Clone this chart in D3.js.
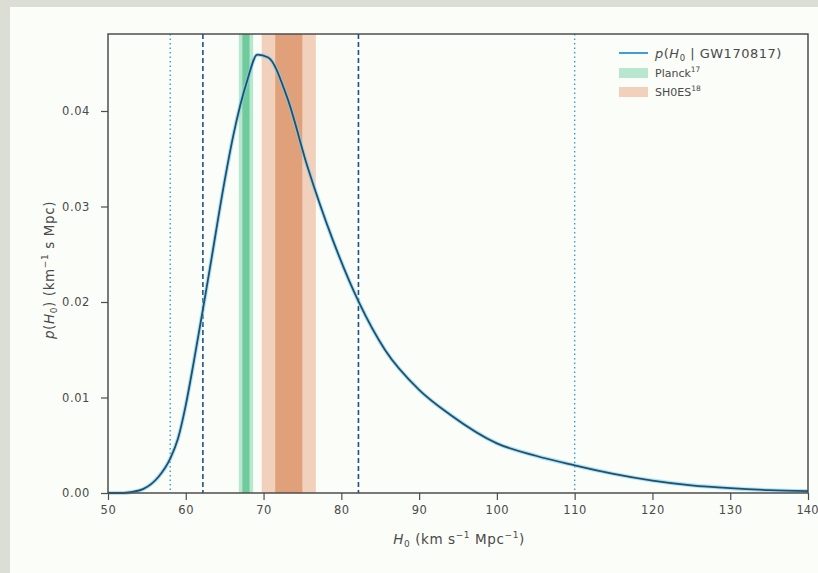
<!DOCTYPE html>
<html>
<head>
<meta charset="utf-8">
<title>H0 posterior</title>
<script src="https://d3js.org/d3.v7.min.js"></script>
<style>
  body { margin: 0; background: #dcded5; }
  svg { display: block; }
  text { font-family: "DejaVu Sans", sans-serif; fill: #4a4a4a; }
</style>
</head>
<body>
<script>
// posterior p(H0 | GW170817)
var h0Values = [50, 52, 53, 54.5, 56.5, 58, 59, 60, 61, 62.2, 63.3, 64.8, 66.1, 67.9, 69.2, 70.6,
                73.0, 75.6, 78.9, 82.3, 85.6, 90, 94, 100, 105, 110, 115, 120, 125, 130, 135, 140];
var density  = [0, 0, 0.0001, 0.0004, 0.0017, 0.0036, 0.0057, 0.0092, 0.0136, 0.0192, 0.0245, 0.0318,
                0.0374, 0.0432, 0.0459, 0.0456, 0.0415, 0.0343, 0.0265, 0.0199, 0.015, 0.0108, 0.0082,
                0.0052, 0.0039, 0.0029, 0.002, 0.0013, 0.0008, 0.0005, 0.0003, 0.0002];

// credible interval lines
var dottedLines = [58, 110];   // 90%
var dashedLines = [62.2, 82.2]; // 68%

// bands [lo, hi]
var planckInner = [67.28, 68.2], planckOuter = [66.82, 68.66];
var shoesInner = [71.5, 74.98], shoesOuter = [69.76, 76.72];

var xTicks = [50, 60, 70, 80, 90, 100, 110, 120, 130, 140];
var yTicks = [0, 0.01, 0.02, 0.03, 0.04];

var W = 818, H = 573;
var svg = d3.select("body").append("svg").attr("width", W).attr("height", H);

// white slide panel
svg.append("rect").attr("x", 10).attr("y", 7).attr("width", W - 10).attr("height", H - 7)
  .attr("fill", "#fafdf8");

var pL = 108, pR = 808, pT = 34, pB = 493;
var x = d3.scaleLinear().domain([50, 140]).range([pL, pR]);
var y = d3.scaleLinear().domain([0, 0.04]).range([pB, 111]);

var plot = svg.append("g");

function band(r, col) {
  plot.append("rect").attr("x", x(r[0])).attr("y", pT)
    .attr("width", x(r[1]) - x(r[0])).attr("height", pB - pT).attr("fill", col);
}
band(planckOuter, "#b9e6cf");
band(planckInner, "#6fcb9c");
band(shoesOuter, "#f1d1bb");
band(shoesInner, "#e0a079");

dottedLines.forEach(function (v) {
  plot.append("line").attr("x1", x(v)).attr("x2", x(v)).attr("y1", pT).attr("y2", pB)
    .attr("stroke", "#3a9ad6").attr("stroke-width", 1.4).attr("stroke-dasharray", "1.5,3");
});
dashedLines.forEach(function (v) {
  plot.append("line").attr("x1", x(v)).attr("x2", x(v)).attr("y1", pT).attr("y2", pB)
    .attr("stroke", "#1f4f86").attr("stroke-width", 1.6).attr("stroke-dasharray", "5,3");
});

var pts = h0Values.map(function (d, i) { return [d, density[i]]; });
var line = d3.line().x(function (d) { return x(d[0]); }).y(function (d) { return y(d[1]); })
  .curve(d3.curveMonotoneX);

plot.append("path").datum(pts).attr("d", line).attr("fill", "none")
  .attr("stroke", "#7fd0f0").attr("stroke-width", 4).attr("opacity", 0.6);
plot.append("path").datum(pts).attr("d", line).attr("fill", "none")
  .attr("stroke", "#21506f").attr("stroke-width", 1.8);

// frame
svg.append("rect").attr("x", pL).attr("y", pT).attr("width", pR - pL).attr("height", pB - pT)
  .attr("fill", "none").attr("stroke", "#4d4d4d").attr("stroke-width", 1.5);

// axes
var xAxis = svg.append("g").attr("transform", "translate(0," + pB + ")")
  .call(d3.axisBottom(x).tickValues(xTicks).tickSize(7).tickPadding(6).tickFormat(d3.format("d")));
var yAxis = svg.append("g").attr("transform", "translate(" + pL + ",0)")
  .call(d3.axisLeft(y).tickValues(yTicks).tickSize(7).tickPadding(11).tickFormat(d3.format(".2f")));
[xAxis, yAxis].forEach(function (a) {
  a.select(".domain").remove();
  a.selectAll(".tick line").attr("stroke", "#4d4d4d").attr("stroke-width", 1.2);
  a.selectAll(".tick text").attr("font-size", 11.5).attr("fill", "#555")
    .attr("letter-spacing", 0.6)
    .style("font-family", "DejaVu Sans, sans-serif");
});
// keep the last label inside the window
xAxis.selectAll(".tick text").filter(function (d) { return d === 140; })
  .attr("letter-spacing", 0).attr("dx", -1);

// axis labels
var xl = svg.append("text").attr("x", 459).attr("y", 544)
  .attr("text-anchor", "middle").attr("font-size", 13.5).attr("letter-spacing", 0.6);
xl.append("tspan").attr("font-style", "italic").text("H");
xl.append("tspan").attr("font-size", 9).attr("dy", 3).text("0");
xl.append("tspan").attr("dy", -3).text(" (km s");
xl.append("tspan").attr("font-size", 9).attr("dy", -6).text("\u22121");
xl.append("tspan").attr("dy", 6).text(" Mpc");
xl.append("tspan").attr("font-size", 9).attr("dy", -6).text("\u22121");
xl.append("tspan").attr("dy", 6).text(")");

var yl = svg.append("text").attr("transform", "translate(54," + 270 + ") rotate(-90)")
  .attr("text-anchor", "middle").attr("font-size", 13.5).attr("letter-spacing", 0.6);
yl.append("tspan").attr("font-style", "italic").text("p");
yl.append("tspan").text("(");
yl.append("tspan").attr("font-style", "italic").text("H");
yl.append("tspan").attr("font-size", 9).attr("dy", 3).text("0");
yl.append("tspan").attr("dy", -3).text(") (km");
yl.append("tspan").attr("font-size", 9).attr("dy", -6).text("\u22121");
yl.append("tspan").attr("dy", 6).text(" s Mpc)");

// legend
var lg = svg.append("g");
lg.append("line").attr("x1", 619).attr("x2", 648).attr("y1", 53).attr("y2", 53)
  .attr("stroke", "#3d9fd6").attr("stroke-width", 2);
lg.append("rect").attr("x", 619).attr("y", 68).attr("width", 29).attr("height", 10).attr("fill", "#b9e6cf");
lg.append("rect").attr("x", 619).attr("y", 87).attr("width", 29).attr("height", 10).attr("fill", "#f1d1bb");

var t1 = lg.append("text").attr("x", 655).attr("y", 58).attr("font-size", 13).attr("letter-spacing", 0.5);
t1.append("tspan").attr("font-style", "italic").text("p");
t1.append("tspan").text("(");
t1.append("tspan").attr("font-style", "italic").text("H");
t1.append("tspan").attr("font-size", 8.5).attr("dy", 3).text("0");
t1.append("tspan").attr("dy", -3).text(" | GW170817)");

var t2 = lg.append("text").attr("x", 655).attr("y", 77).attr("font-size", 11);
t2.append("tspan").text("Planck");
t2.append("tspan").attr("font-size", 7.5).attr("dy", -5).text("17");

var t3 = lg.append("text").attr("x", 655).attr("y", 96).attr("font-size", 11);
t3.append("tspan").text("SH0ES");
t3.append("tspan").attr("font-size", 7.5).attr("dy", -5).text("18");
</script>
</body>
</html>
